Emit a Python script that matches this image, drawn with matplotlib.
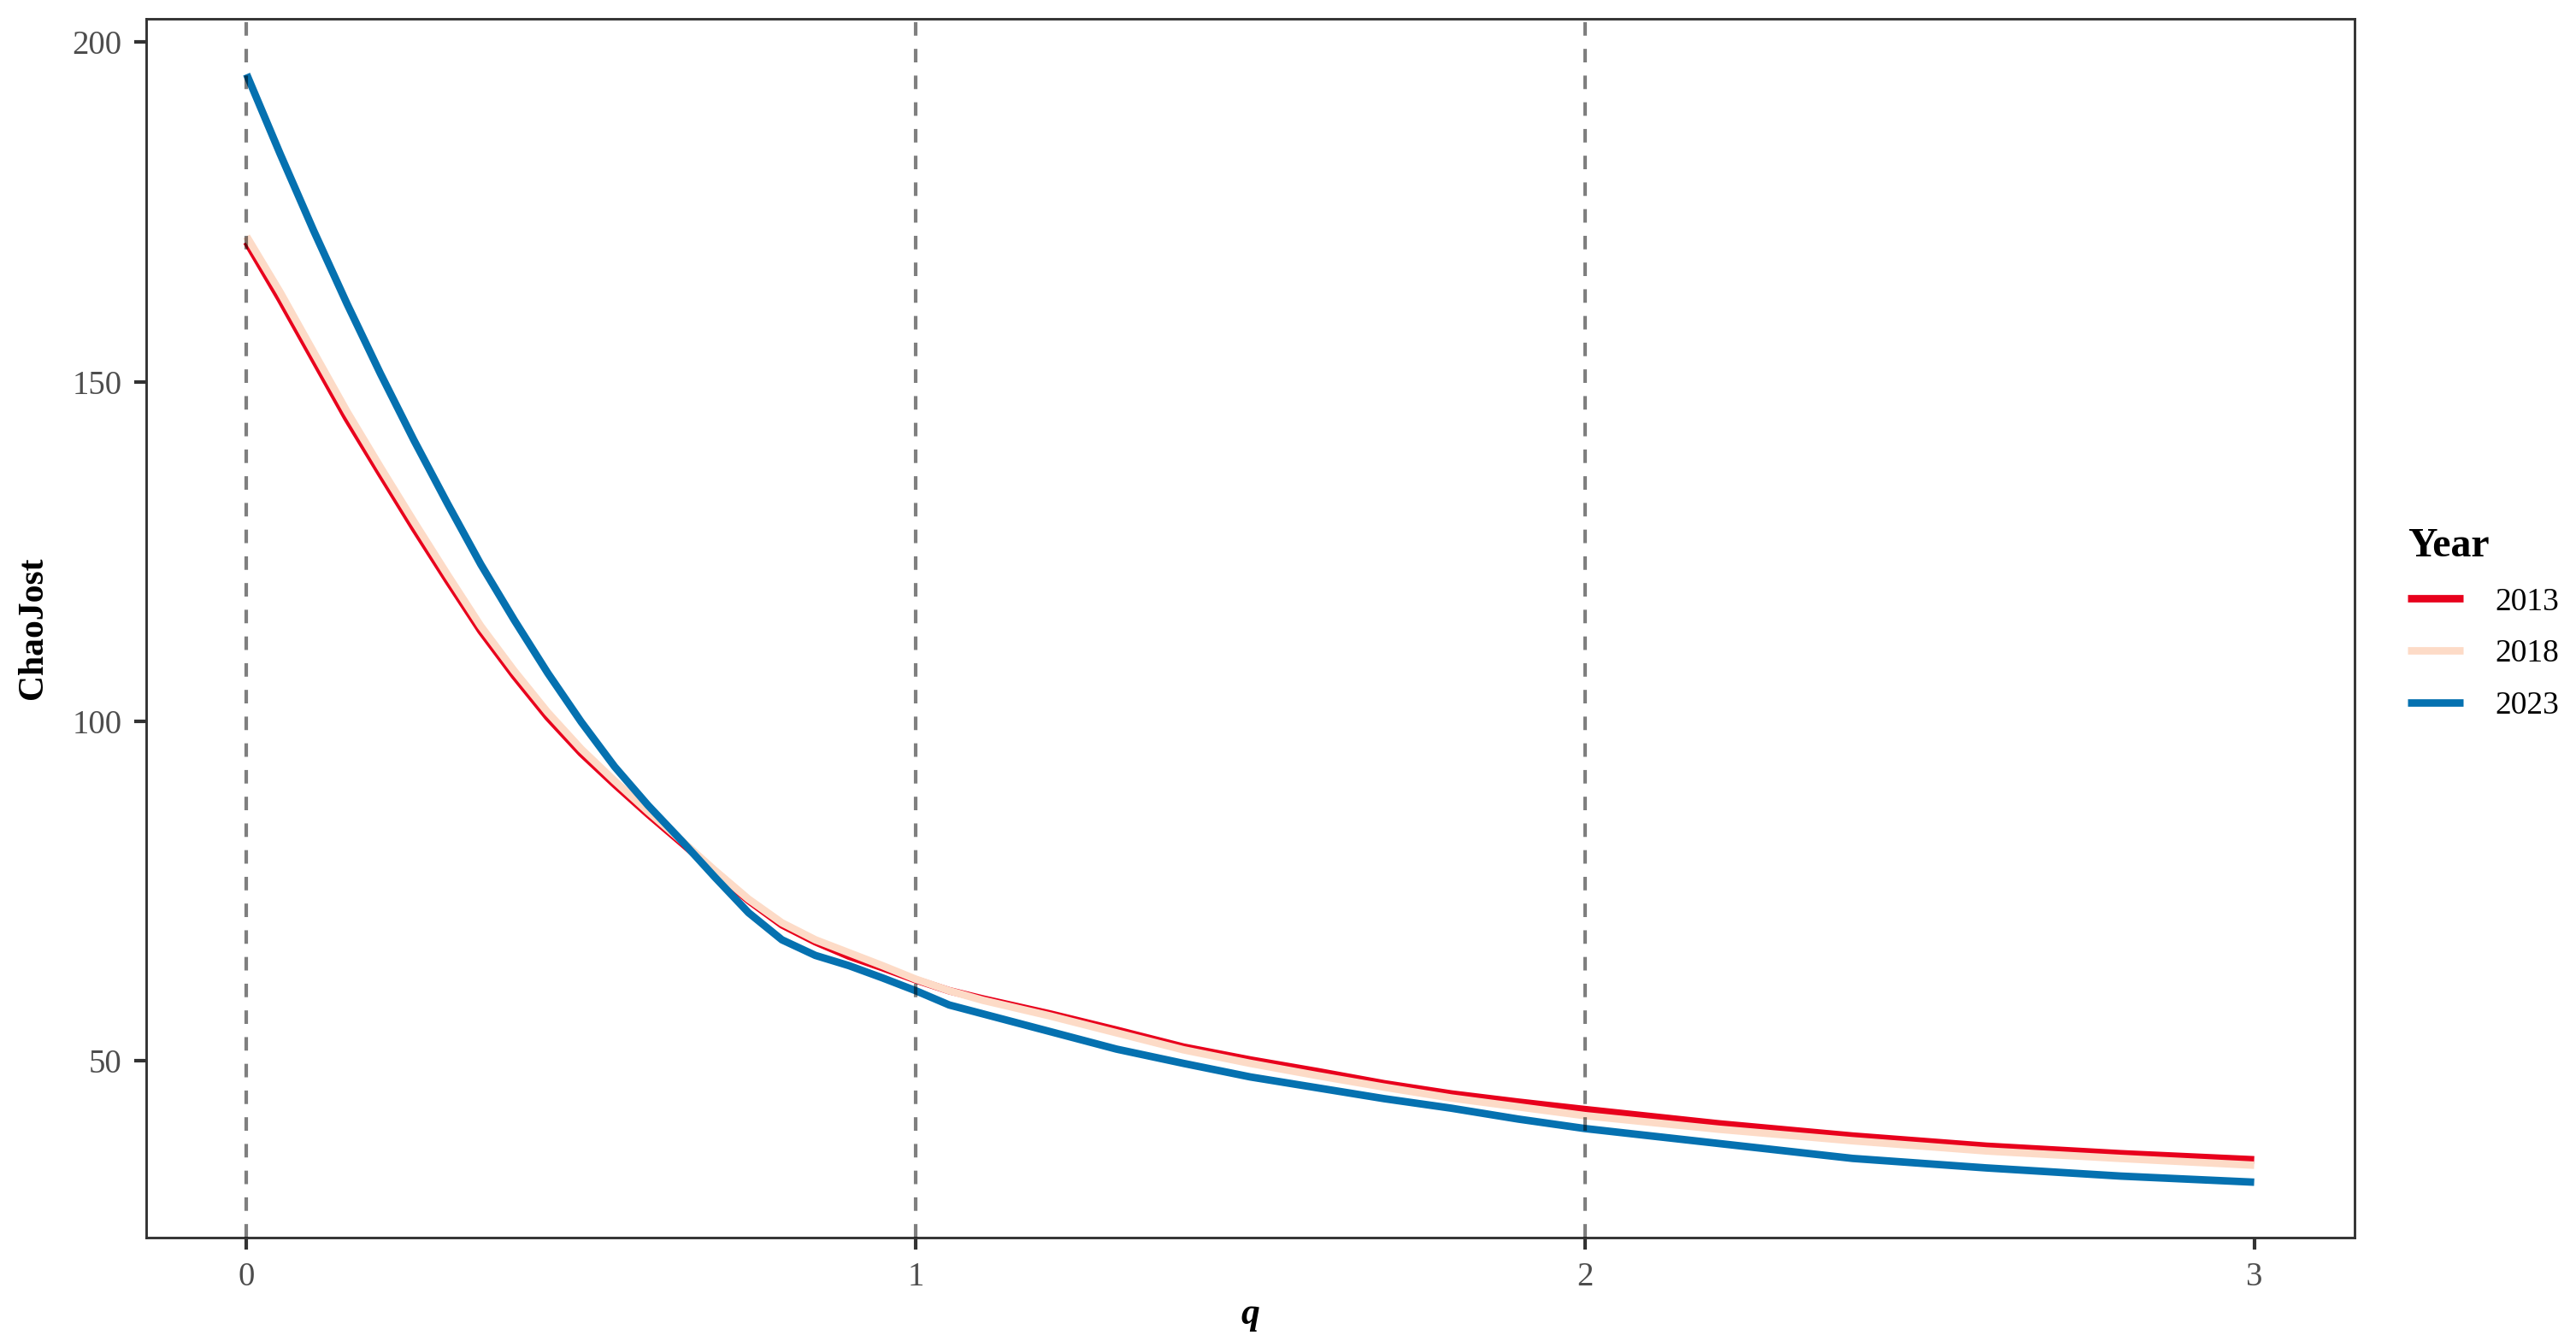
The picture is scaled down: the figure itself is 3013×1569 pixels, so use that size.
import numpy as np
import matplotlib
matplotlib.use("Agg")
import matplotlib.pyplot as plt

plt.rcParams["font.family"] = ["Liberation Serif", "DejaVu Serif"]

# Order of diversity q
q = [0.0, 0.05, 0.10, 0.15, 0.20, 0.25, 0.30, 0.35, 0.40, 0.45, 0.50, 0.55,
     0.60, 0.65, 0.70, 0.75, 0.80, 0.85, 0.90, 0.95, 1.00, 1.05, 1.10, 1.20,
     1.30, 1.40, 1.50, 1.60, 1.70, 1.80, 1.90, 2.00, 2.20, 2.40, 2.60, 2.80, 3.00]

# Estimated ChaoJost diversity per year
y2013 = [170.6, 162.2, 153.4, 144.6, 136.5, 128.5, 120.8, 113.3, 106.7, 100.6, 95.3, 90.7,
         86.3, 82.1, 77.8, 73.6, 70.0, 67.5, 65.4, 63.7, 61.9, 60.3, 59.1, 56.9,
         54.5, 52.0, 50.1, 48.4, 46.6, 45.1, 43.9, 42.8, 40.7, 38.9, 37.4, 36.3, 35.4]
y2018 = [171.4, 163.2, 154.4, 145.6, 137.4, 129.4, 121.6, 114.0, 107.4, 101.3, 95.9, 91.2,
         86.7, 82.4, 78.0, 73.8, 70.3, 67.8, 65.9, 64.0, 62.0, 60.3, 58.9, 56.6,
         54.1, 51.6, 49.6, 47.8, 46.1, 44.5, 43.2, 41.9, 39.9, 38.2, 36.7, 35.6, 34.6]
y2023 = [195.3, 183.6, 172.3, 161.5, 151.2, 141.4, 132.1, 123.1, 114.9, 107.1, 99.9, 93.3,
         87.6, 82.4, 77.0, 71.8, 67.8, 65.5, 64.0, 62.2, 60.3, 58.2, 56.9, 54.3,
         51.7, 49.6, 47.6, 46.0, 44.4, 43.0, 41.4, 40.0, 37.8, 35.6, 34.2, 33.0, 32.1]

years = ["2013", "2018", "2023"]
colors = ["#E8001C", "#FDDBC7", "#0571B0"]
ref_q = [0, 1, 2]

fig = plt.figure(figsize=(3013 / 300, 1569 / 300), dpi=300)
ax = fig.add_axes([171 / 3013, 1 - 1448 / 1569, (2754 - 171) / 3013, (1448 - 22) / 1569])

for year, vals, c in zip(years, [y2013, y2018, y2023], colors):
    ax.plot(q, vals, color=c, linewidth=2.1, label=year, solid_capstyle="butt",
            solid_joinstyle="round", zorder=2)

for xv in ref_q:
    ax.axvline(xv, color="black", alpha=0.5, linewidth=1.0,
               linestyle=(0, (3.8, 3.7)), zorder=3)

# ggplot-like 5% expansion
allv = np.concatenate([y2013, y2018, y2023])
ymin, ymax = allv.min(), allv.max()
pad = 0.05 * (ymax - ymin)
ax.set_ylim(ymin - pad, ymax + pad)
ax.set_xlim(min(q) - 0.05 * (max(q) - min(q)), max(q) + 0.05 * (max(q) - min(q)))

ax.set_xticks([0, 1, 2, 3])
ax.set_yticks([50, 100, 150, 200])
ax.tick_params(axis="both", length=3.3, width=1.0, color="#333333",
               labelcolor="#4D4D4D", labelsize=9.3, pad=3.5)
for sp in ax.spines.values():
    sp.set_color("#333333")
    sp.set_linewidth(0.7)

ax.set_ylabel("ChaoJost", fontsize=10, fontweight="bold")
ax.yaxis.set_label_coords(-0.0437, 0.5)
ax.set_xlabel("q", fontsize=10.5, fontweight="bold", fontstyle="italic")
ax.xaxis.set_label_coords(0.5, -0.049)

leg = ax.legend(loc="upper left", bbox_to_anchor=(2797 / 3013, 1 - 598 / 1569),
                bbox_transform=fig.transFigure, frameon=False, title="Year",
                fontsize=9.0, title_fontproperties={"weight": "bold", "size": 11.5},
                handlelength=1.75, handletextpad=1.0, labelspacing=0.7,
                borderpad=0, alignment="left")
for h in leg.get_lines():
    h.set_linewidth(2.1)

fig.savefig("out.png", dpi=300, facecolor="white")
